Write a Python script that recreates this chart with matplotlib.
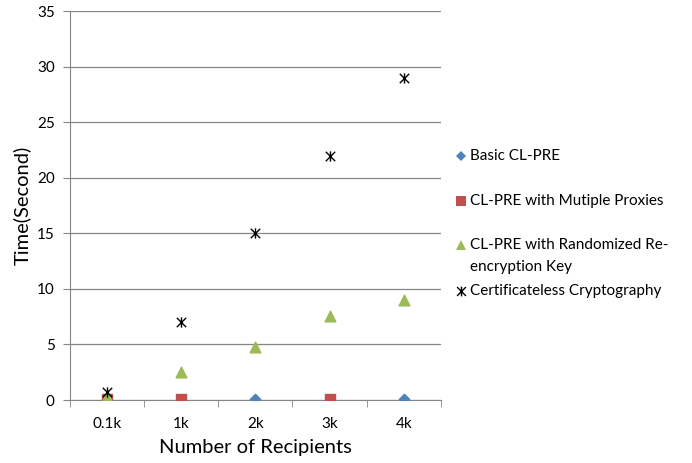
import numpy as np
import matplotlib.pyplot as plt
from matplotlib.lines import Line2D
from matplotlib.path import Path

plt.rcParams["font.family"] = ["Lato", "DejaVu Sans"]

categories = ["0.1k", "1k", "2k", "3k", "4k"]
basic = [np.nan, np.nan, 0.05, np.nan, 0.05]
multi_proxy = [0.05, 0.05, np.nan, 0.05, np.nan]
randomized = [0.3, 2.5, 4.8, 7.6, 9.0]
certless = [0.7, 7.0, 15.0, 22.0, 29.0]
series_names = ["Basic CL-PRE", "CL-PRE with Mutiple Proxies",
                "CL-PRE with Randomized Re-\nencryption Key",
                "Certificateless Cryptography"]

# X with a vertical bar, like the Excel star marker
star = Path([(-1, -1), (1, 1), (-1, 1), (1, -1), (0, -1.1), (0, 1.1)],
            [Path.MOVETO, Path.LINETO] * 3)

styles = [
    dict(marker="D", s=28, color="#4F81BD", zorder=3),
    dict(marker="s", s=55, color="#C0504D", zorder=4),
    dict(marker="^", s=60, color="#9BBB59", zorder=5),
    dict(marker=star, s=55, color="black", linewidths=1.0, zorder=6),
]

fig = plt.figure(figsize=(6.92, 4.63), dpi=100)
ax = fig.add_axes([0.101, 0.136, 0.536, 0.840])

x = np.arange(len(categories))
for vals, st in zip([basic, multi_proxy, randomized, certless], styles):
    ax.scatter(x, vals, **st)

ax.set_xlim(-0.5, len(categories) - 0.5)
ax.set_ylim(0, 35)
ax.set_yticks(range(0, 36, 5))
ax.set_xticks(x)
ax.set_xticklabels(categories)
ax.set_xticks(np.arange(-0.5, len(categories)), minor=True)
ax.tick_params(axis="x", which="major", length=0, pad=12, labelsize=11)
ax.tick_params(axis="x", which="minor", length=5, color="#868686")
ax.tick_params(axis="y", length=5, color="#868686", labelsize=11, pad=6)

ax.grid(axis="y", color="#868686", linewidth=0.9)
ax.set_axisbelow(True)
for side in ["top", "right"]:
    ax.spines[side].set_visible(False)
for side in ["left", "bottom"]:
    ax.spines[side].set_color("#868686")

ax.set_xlabel("Number of Recipients", fontsize=14.5, labelpad=6)
ax.set_ylabel("Time(Second)", fontsize=14.5, labelpad=4)

# legend drawn by hand so the two-line entry aligns on its first line
row_y = [156, 201, 245, 291]
for name, st, py in zip(series_names, styles, row_y):
    fy = 1 - py / 463
    ms = np.sqrt(st["s"])
    fig.add_artist(Line2D([461 / 692], [fy], transform=fig.transFigure,
                          marker=st["marker"], markersize=ms * 0.95,
                          color=st["color"], linestyle="none",
                          markeredgewidth=st.get("linewidths", 0)))
    fig.text(470 / 692, fy + 0.016, name, fontsize=11, va="top", ha="left",
             linespacing=1.8, transform=fig.transFigure)

fig.savefig("out.png", dpi=100)
